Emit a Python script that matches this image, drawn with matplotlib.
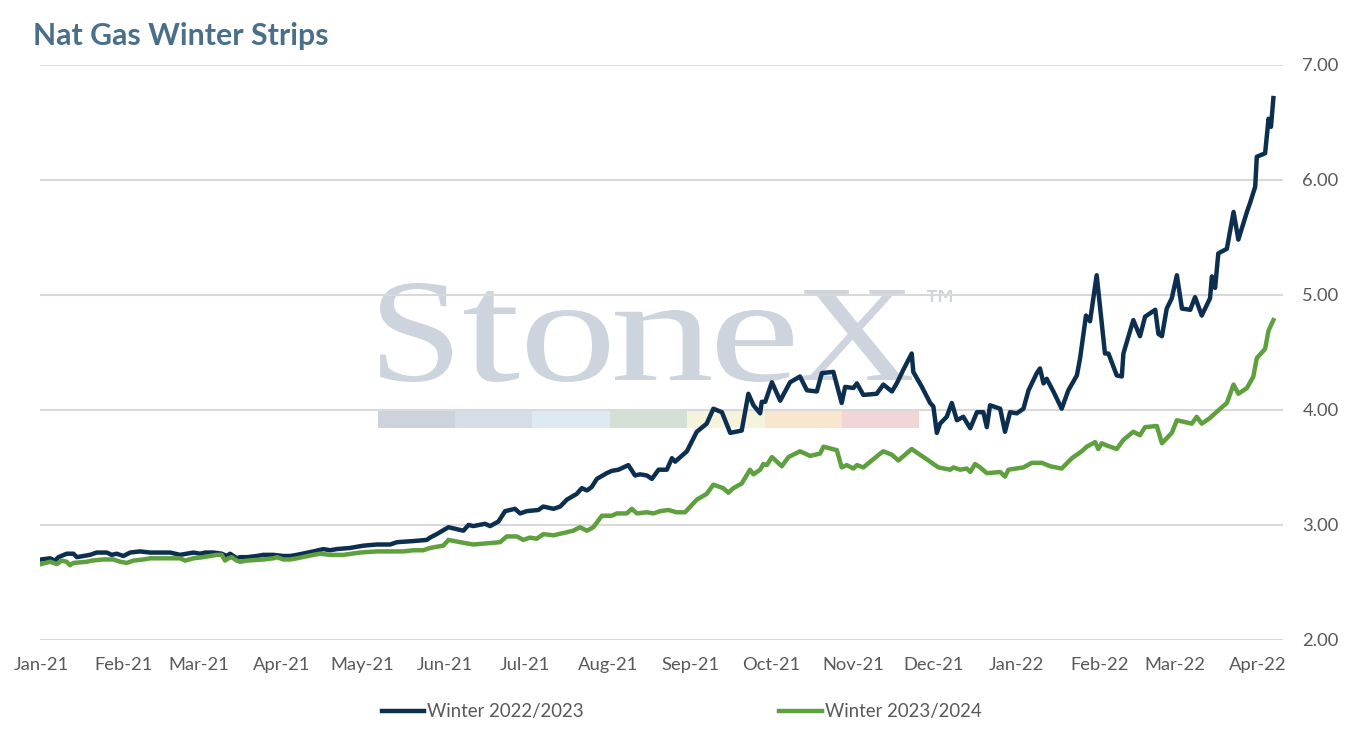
import matplotlib
matplotlib.use("Agg")
import matplotlib.pyplot as plt
import matplotlib.dates as mdates
from matplotlib.patches import Rectangle, PathPatch
from matplotlib.textpath import TextPath
from matplotlib.font_manager import FontProperties
from matplotlib.transforms import Affine2D
import pandas as pd

plt.rcParams['font.family'] = ['Lato', 'DejaVu Sans']

# data: trading-day offsets from 1 Jan 2021 and strip prices
start = pd.Timestamp('2021-01-01')

w2223_days = [0, 3.4, 5.2, 6.5, 9.6, 12.1, 13.4, 18.3, 20.8, 24.6,
              26.4, 28.3, 30.8, 33.3, 37.0, 40.8, 43.3, 48.3, 52.0, 54.5,
              57.0, 59.5, 61.4, 64.5, 67.6, 69.5, 70.7, 73.2, 74.4, 77.0,
              80.7, 83.2, 86.9, 90.6, 93.2, 95.7, 101.9, 105.6, 108.1, 110.6,
              115.6, 120.6, 125.6, 130.6, 133.1, 139.3, 144.3, 145.5, 148.0, 152.4,
              158.0, 159.9, 161.7, 166.1, 168.0, 171.1, 173.6, 177.3, 179.2, 181.7,
              186.0, 187.9, 191.7, 194.2, 196.7, 200.4, 202.3, 204.2, 206.0, 207.9,
              211.6, 213.5, 216.0, 219.7, 222.2, 224.1, 226.6, 228.5, 231.0, 234.1,
              236.0, 237.2, 241.6, 245.3, 249.0, 251.5, 254.7, 257.8, 262.1, 264.6,
              266.5, 269.0, 269.6, 270.9, 273.4, 276.5, 280.2, 283.9, 286.5, 290.2,
              292.1, 296.4, 299.5, 300.8, 303.9, 305.2, 307.6, 312.6, 315.1, 318.3,
              320.1, 322.6, 325.7, 326.3, 329.5, 332.6, 333.8, 335.1, 336.3, 338.8,
              340.7, 342.6, 345.0, 347.6, 350.1, 352.5, 353.8, 355.0, 358.8, 360.6,
              362.5, 365.0, 367.5, 369.4, 372.5, 373.7, 375.0, 376.2, 378.7, 381.8,
              384.3, 387.5, 388.7, 390.9, 392.4, 394.9, 398.0, 399.3, 402.4, 404.3,
              404.9, 408.6, 411.1, 413.0, 416.8, 418.0, 419.3, 421.1, 423.0, 424.9,
              426.8, 429.9, 431.7, 434.2, 437.3, 438.0, 439.2, 440.4, 443.6, 446.1,
              447.9, 451.1, 452.3, 454.2, 454.8, 457.9, 459.2, 460.1, 461.0]
w2223_vals = [2.70, 2.71, 2.69, 2.72, 2.75, 2.75, 2.72, 2.74, 2.76, 2.76,
              2.74, 2.75, 2.73, 2.76, 2.77, 2.76, 2.76, 2.76, 2.74, 2.75,
              2.76, 2.75, 2.76, 2.76, 2.75, 2.73, 2.75, 2.71, 2.72, 2.72,
              2.73, 2.74, 2.74, 2.73, 2.73, 2.74, 2.77, 2.79, 2.78, 2.79,
              2.80, 2.82, 2.83, 2.83, 2.85, 2.86, 2.87, 2.89, 2.92, 2.98,
              2.95, 3.00, 2.99, 3.01, 2.99, 3.03, 3.12, 3.14, 3.10, 3.12,
              3.13, 3.16, 3.14, 3.16, 3.22, 3.27, 3.32, 3.30, 3.33, 3.40,
              3.45, 3.47, 3.48, 3.52, 3.43, 3.44, 3.43, 3.40, 3.48, 3.48,
              3.58, 3.55, 3.64, 3.81, 3.88, 4.01, 3.98, 3.80, 3.82, 4.14,
              4.04, 3.97, 4.07, 4.07, 4.24, 4.08, 4.24, 4.29, 4.17, 4.16,
              4.32, 4.33, 4.06, 4.20, 4.19, 4.23, 4.13, 4.14, 4.22, 4.16,
              4.23, 4.35, 4.49, 4.33, 4.20, 4.06, 4.03, 3.80, 3.88, 3.94,
              4.06, 3.91, 3.94, 3.84, 3.98, 3.98, 3.85, 4.04, 4.01, 3.81,
              3.98, 3.97, 4.01, 4.17, 4.32, 4.36, 4.23, 4.27, 4.16, 4.01,
              4.17, 4.30, 4.45, 4.82, 4.77, 5.17, 4.49, 4.49, 4.30, 4.29,
              4.49, 4.78, 4.64, 4.81, 4.87, 4.66, 4.64, 4.88, 4.97, 5.17,
              4.88, 4.87, 4.98, 4.82, 4.97, 5.16, 5.06, 5.36, 5.40, 5.72,
              5.48, 5.72, 5.80, 5.94, 6.20, 6.23, 6.53, 6.46, 6.71]

w2324_days = [0, 3.4, 5.9, 7.7, 9.6, 10.8, 12.1, 17.1, 19.0, 23.3,
              27.0, 29.6, 32.1, 34.5, 38.3, 40.8, 48.3, 52.0, 53.9, 57.0,
              60.7, 63.2, 65.7, 67.6, 68.8, 70.1, 71.3, 73.2, 74.4, 77.0,
              83.2, 86.9, 88.2, 90.6, 93.2, 95.7, 101.9, 104.4, 108.1, 113.1,
              119.3, 125.6, 130.6, 135.5, 139.3, 143.0, 145.5, 150.5, 152.4, 156.8,
              161.7, 166.7, 171.7, 174.2, 178.0, 180.4, 182.9, 185.4, 187.9, 191.7,
              195.4, 199.1, 201.6, 204.2, 206.6, 209.8, 213.5, 215.4, 219.1, 221.0,
              222.9, 226.6, 229.1, 231.6, 234.7, 237.8, 240.9, 245.3, 249.0, 251.5,
              255.2, 257.1, 259.0, 262.1, 263.4, 265.2, 266.5, 269.0, 270.2, 271.5,
              273.4, 277.1, 279.6, 283.9, 287.7, 291.4, 292.7, 297.7, 299.5, 301.4,
              303.9, 305.2, 307.6, 313.9, 315.1, 318.3, 320.7, 325.7, 328.8, 332.0,
              333.8, 335.7, 340.1, 341.3, 343.8, 346.3, 347.6, 349.4, 351.3, 353.8,
              358.8, 360.6, 361.9, 367.5, 370.6, 374.4, 377.5, 381.8, 385.6, 389.3,
              391.2, 394.3, 395.5, 396.8, 398.7, 402.4, 404.9, 408.6, 411.1, 413.0,
              417.4, 419.3, 423.0, 424.9, 430.5, 432.3, 434.2, 437.3, 441.1, 443.6,
              446.1, 447.9, 451.1, 453.5, 454.8, 457.9, 459.2, 461.0]
w2324_vals = [2.66, 2.68, 2.66, 2.69, 2.68, 2.65, 2.67, 2.68, 2.69, 2.70,
              2.70, 2.68, 2.67, 2.69, 2.70, 2.71, 2.71, 2.71, 2.69, 2.71,
              2.72, 2.73, 2.74, 2.74, 2.69, 2.71, 2.72, 2.69, 2.68, 2.69,
              2.70, 2.71, 2.72, 2.70, 2.70, 2.71, 2.74, 2.75, 2.74, 2.74,
              2.76, 2.77, 2.77, 2.77, 2.78, 2.78, 2.80, 2.82, 2.87, 2.85,
              2.83, 2.84, 2.85, 2.90, 2.90, 2.87, 2.89, 2.88, 2.92, 2.91,
              2.93, 2.95, 2.98, 2.95, 2.98, 3.08, 3.08, 3.10, 3.10, 3.14,
              3.10, 3.11, 3.10, 3.12, 3.13, 3.11, 3.11, 3.22, 3.27, 3.35,
              3.32, 3.28, 3.32, 3.36, 3.41, 3.48, 3.44, 3.48, 3.53, 3.52,
              3.59, 3.51, 3.59, 3.64, 3.60, 3.62, 3.68, 3.65, 3.50, 3.52,
              3.49, 3.52, 3.50, 3.62, 3.64, 3.61, 3.56, 3.66, 3.61, 3.56,
              3.53, 3.50, 3.48, 3.50, 3.48, 3.49, 3.46, 3.53, 3.50, 3.45,
              3.46, 3.42, 3.48, 3.50, 3.54, 3.54, 3.51, 3.49, 3.58, 3.64,
              3.68, 3.72, 3.66, 3.71, 3.69, 3.66, 3.74, 3.81, 3.78, 3.85,
              3.86, 3.71, 3.80, 3.91, 3.88, 3.94, 3.88, 3.93, 4.01, 4.06,
              4.22, 4.14, 4.19, 4.29, 4.45, 4.53, 4.69, 4.78]

series_names = ['Winter 2022/2023', 'Winter 2023/2024']
series_colors = ['#0D2F4F', '#5E9F3E']

x1 = start + pd.to_timedelta(w2223_days, unit='D')
x2 = start + pd.to_timedelta(w2324_days, unit='D')

W, H = 1350, 733
fig = plt.figure(figsize=(W / 100, H / 100), dpi=100)
ax = fig.add_axes([40 / W, 1 - 640 / H, (1283 - 40) / W, (640 - 64.7) / H])
ax.patch.set_visible(False)


def glyph(ch, left, right, top, bottom, family, color):
    # draw a glyph stretched into a pixel box (y measured from the top)
    p = TextPath((0, 0), ch, size=100, prop=FontProperties(family=family))
    e = p.get_extents()
    t = (Affine2D().translate(-e.x0, -e.y0)
         .scale((right - left) / e.width, (bottom - top) / e.height)
         .translate(left, H - bottom)
         .scale(1 / W, 1 / H)) + fig.transFigure
    fig.add_artist(PathPatch(p, transform=t, color=color, lw=0, zorder=-2))


# watermark behind the plot
wm = '#CDD4DD'
boxes = [('S', 380, 452, 283, 382), ('t', 464, 519, 291, 382), ('o', 527, 609, 310, 382),
         ('n', 615, 711, 310, 380), ('e', 717, 793, 310, 382), ('X', 799, 912, 290, 380)]
for ch, l, r, tp, bt in boxes:
    glyph(ch, l, r, tp, bt, 'Liberation Serif', wm)
glyph('\u2122', 927, 952, 290, 302, 'DejaVu Sans', wm)
bar_cols = ['#CDD3DC', '#D4DDE8', '#DDE9F3', '#D3E0D6', '#F6F3DC', '#F8E6CF', '#F2D5D7']
edges = [378, 455, 532, 610, 687, 765, 842, 919]
for i, c in enumerate(bar_cols):
    fig.add_artist(Rectangle((edges[i] / W, 1 - 428 / H), (edges[i + 1] - edges[i]) / W,
                             17 / H, transform=fig.transFigure, color=c, lw=0, zorder=-2))

ax.plot(x1, w2223_vals, color=series_colors[0], lw=3.2, label=series_names[0], zorder=3)
ax.plot(x2, w2324_vals, color=series_colors[1], lw=3.2, label=series_names[1], zorder=3)

ax.set_ylim(2, 7)
ax.set_xlim(start - pd.Timedelta(days=0.4), start + pd.Timedelta(days=464.6))
ax.set_yticks([2, 3, 4, 5, 6, 7])
ax.yaxis.set_major_formatter(plt.FuncFormatter(lambda v, p: f'{v:.2f}'))
ax.yaxis.tick_right()
ax.xaxis.set_major_locator(mdates.MonthLocator())
ax.xaxis.set_major_formatter(mdates.DateFormatter('%b-%y'))
ax.tick_params(axis='both', length=0, labelsize=13.2, labelcolor='#595959')
ax.tick_params(axis='y', pad=14)
ax.tick_params(axis='x', pad=12)
ax.yaxis.grid(True, color='#D9D9D9', lw=1.5)
ax.set_axisbelow(True)
for s in ax.spines.values():
    s.set_visible(False)

fig.text(33 / W, 1 - 45 / H, 'Nat Gas Winter Strips', fontsize=21.8, fontweight='bold',
         color='#4A6F8A', ha='left', va='baseline')

fig.legend(loc='center', bbox_to_anchor=(681.5 / W, 1 - 712 / H), ncol=2, frameon=False,
           fontsize=13.4, handlelength=2.3, handletextpad=0.15, columnspacing=10.5,
           labelcolor='#595959')

fig.savefig('out.png', dpi=100)
